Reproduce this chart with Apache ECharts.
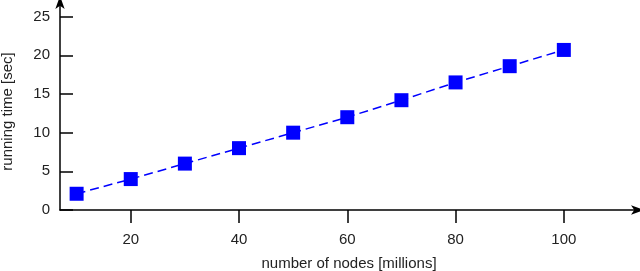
<!DOCTYPE html>
<html><head><meta charset="utf-8">
<script src="https://cdn.jsdelivr.net/npm/echarts@6/dist/echarts.min.js"></script>
<style>html,body{margin:0;padding:0;background:#fff}#c{width:640px;height:271px}</style>
</head><body><div id="c"></div>
<script>
const nodesMillions = [10, 20, 30, 40, 50, 60, 70, 80, 90, 100];
const runningTimeSec = [2.1, 4.0, 6.0, 8.0, 10.0, 12.0, 14.2, 16.5, 18.6, 20.7];
const xTicks = [20, 40, 60, 80, 100];
const yTicks = [0, 5, 10, 15, 20, 25];
const xName = 'number of nodes [millions]';
const yName = 'running time [sec]';

const chart = echarts.init(document.getElementById('c'));
const font = 'Liberation Sans, Arial, sans-serif';
chart.setOption({
  animation: false,
  grid: {left: 60, right: 2, top: 2, bottom: 61, containLabel: false, outerBoundsMode: 'none'},
  xAxis: {
    type: 'value', min: 6.93, max: 113.7,
    name: xName, nameLocation: 'middle', nameGap: 46,
    nameTextStyle: {fontFamily: font, fontSize: 15, color: '#222'},
    axisLine: {lineStyle: {color: '#000', width: 1.5}, symbol: ['none', 'arrow'], symbolSize: [7, 13], symbolOffset: [0, 6]},
    axisTick: {show: true, length: 13, inside: false, customValues: xTicks, lineStyle: {color: '#000', width: 1.5}},
    axisLabel: {customValues: xTicks, margin: 22, fontFamily: font, fontSize: 15, color: '#222'},
    splitLine: {show: false}
  },
  yAxis: {
    type: 'value', min: 0, max: 26.9,
    name: yName, nameLocation: 'middle', nameGap: 45,
    nameTextStyle: {fontFamily: font, fontSize: 15, color: '#222', padding: [0, 11, 0, 0]},
    axisLine: {show: true, lineStyle: {color: '#000', width: 1.5}, symbol: ['none', 'arrow'], symbolSize: [7, 13], symbolOffset: [0, 6]},
    axisTick: {show: true, length: 13, inside: true, customValues: yTicks, lineStyle: {color: '#000', width: 1.5}},
    axisLabel: {customValues: yTicks, margin: 10, fontFamily: font, fontSize: 15, color: '#222'},
    splitLine: {show: false}
  },
  series: [{
    type: 'line',
    data: nodesMillions.map((x, i) => [x, runningTimeSec[i]]),
    symbol: 'rect', symbolSize: 14,
    itemStyle: {color: '#0000ff'},
    lineStyle: {color: '#0000ff', width: 1.5, type: [9, 5]}
  }]
});
</script></body></html>
